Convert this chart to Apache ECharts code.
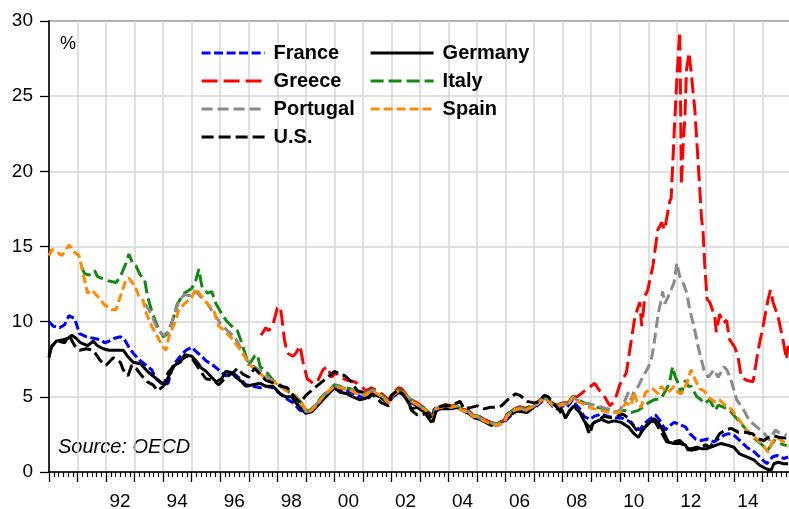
<!DOCTYPE html>
<html>
<head>
<meta charset="utf-8">
<script src="https://cdn.jsdelivr.net/npm/echarts@6/dist/echarts.min.js"></script>
<style>
  html, body { margin: 0; padding: 0; background: #fff; }
  #chart { width: 789px; height: 509px; }
</style>
</head>
<body>
<div id="chart"></div>
<script>
// 10-year government bond yields, %, [year, value]
const france = [[1990.0,10.0],[1990.15,9.7],[1990.37,9.6],[1990.55,9.8],[1990.7,10.4],[1990.9,10.2],[1991.07,9.2],[1991.3,9.0],[1991.55,8.9],[1991.8,8.8],[1991.95,8.6],[1992.1,8.7],[1992.3,8.9],[1992.5,9.0],[1992.65,8.8],[1992.8,8.3],[1992.95,7.9],[1993.2,7.4],[1993.4,7.1],[1993.6,6.8],[1993.75,6.2],[1994.0,5.8],[1994.17,5.9],[1994.35,7.1],[1994.6,7.7],[1994.8,8.1],[1995.0,8.3],[1995.16,8.0],[1995.35,7.7],[1995.5,7.4],[1995.75,7.1],[1996.0,6.7],[1996.2,6.4],[1996.45,6.6],[1996.7,6.2],[1996.9,5.8],[1997.15,5.7],[1997.4,5.6],[1997.6,5.7],[1997.85,5.6],[1998.1,5.2],[1998.3,4.9],[1998.55,4.6],[1998.8,4.1],[1999.0,4.0],[1999.2,4.1],[1999.4,4.5],[1999.6,5.0],[1999.8,5.3],[2000.0,5.6],[2000.2,5.5],[2000.45,5.4],[2000.7,5.2],[2000.9,5.0],[2001.1,5.0],[2001.3,5.2],[2001.5,5.1],[2001.7,4.9],[2001.9,4.6],[2002.05,5.0],[2002.3,5.3],[2002.5,5.0],[2002.7,4.6],[2002.9,4.4],[2003.1,4.2],[2003.3,4.0],[2003.45,3.6],[2003.6,4.1],[2003.8,4.3],[2004.1,4.2],[2004.3,4.3],[2004.5,4.1],[2004.7,3.9],[2004.9,3.7],[2005.1,3.6],[2005.3,3.4],[2005.5,3.2],[2005.7,3.1],[2005.95,3.3],[2006.1,3.6],[2006.3,4.0],[2006.5,4.1],[2006.7,4.0],[2006.9,4.2],[2007.1,4.4],[2007.3,4.75],[2007.5,4.7],[2007.65,4.35],[2007.8,4.2],[2008.0,4.4],[2008.15,4.3],[2008.35,4.8],[2008.45,4.5],[2008.6,4.2],[2008.75,3.7],[2008.95,3.5],[2009.1,3.7],[2009.35,3.85],[2009.6,3.7],[2009.8,3.6],[2010.05,3.6],[2010.3,3.4],[2010.5,3.1],[2010.7,2.8],[2010.85,3.2],[2011.0,3.45],[2011.25,3.8],[2011.4,3.45],[2011.6,2.8],[2011.7,3.0],[2011.9,3.3],[2012.05,3.2],[2012.3,3.0],[2012.45,2.55],[2012.65,2.2],[2012.85,2.1],[2013.1,2.2],[2013.3,2.0],[2013.45,2.2],[2013.65,2.45],[2013.8,2.55],[2014.0,2.45],[2014.2,2.1],[2014.45,1.65],[2014.7,1.35],[2014.9,1.0],[2015.15,0.55],[2015.35,1.0],[2015.5,1.1],[2015.75,0.9],[2015.9,1.0]];

const germany = [[1990.0,7.6],[1990.08,8.3],[1990.25,8.7],[1990.5,8.8],[1990.67,8.9],[1990.8,9.1],[1990.95,8.9],[1991.1,8.6],[1991.35,8.4],[1991.55,8.7],[1991.7,8.4],[1991.9,8.2],[1992.1,8.1],[1992.35,8.1],[1992.6,8.1],[1992.75,7.7],[1992.95,7.3],[1993.2,7.2],[1993.35,6.9],[1993.5,6.6],[1993.7,6.3],[1993.9,6.0],[1994.05,5.8],[1994.25,6.6],[1994.4,7.1],[1994.6,7.3],[1994.75,7.8],[1995.0,7.7],[1995.2,7.3],[1995.35,6.9],[1995.5,6.7],[1995.7,6.3],[1995.85,6.0],[1996.05,6.2],[1996.2,6.7],[1996.4,6.6],[1996.55,6.3],[1996.75,6.0],[1996.9,5.7],[1997.15,5.8],[1997.4,5.9],[1997.6,5.7],[1997.85,5.7],[1998.1,5.2],[1998.3,5.0],[1998.5,5.0],[1998.65,4.6],[1998.85,4.2],[1999.0,3.9],[1999.2,4.0],[1999.35,4.3],[1999.6,4.8],[1999.8,5.2],[2000.0,5.6],[2000.2,5.3],[2000.45,5.2],[2000.65,5.0],[2000.9,4.8],[2001.1,4.9],[2001.35,5.2],[2001.6,5.0],[2001.85,4.6],[2002.05,5.1],[2002.3,5.3],[2002.5,5.0],[2002.7,4.2],[2002.9,4.3],[2003.15,4.0],[2003.4,3.3],[2003.5,4.2],[2003.75,4.2],[2004.0,4.2],[2004.3,4.3],[2004.5,4.1],[2004.7,3.9],[2004.9,3.6],[2005.1,3.5],[2005.3,3.3],[2005.5,3.1],[2005.7,3.2],[2005.95,3.4],[2006.05,3.7],[2006.4,4.05],[2006.75,3.95],[2007.05,4.4],[2007.35,5.05],[2007.5,4.75],[2007.7,4.5],[2007.95,4.2],[2008.1,3.6],[2008.25,4.1],[2008.4,4.4],[2008.6,3.95],[2008.75,3.4],[2008.95,2.95],[2009.1,3.3],[2009.35,3.5],[2009.6,3.3],[2009.8,3.4],[2010.05,3.3],[2010.3,3.0],[2010.5,2.55],[2010.65,2.3],[2010.8,2.8],[2011.0,3.2],[2011.2,3.55],[2011.35,3.3],[2011.5,2.8],[2011.7,2.0],[2011.9,1.9],[2012.1,1.9],[2012.3,1.8],[2012.4,1.45],[2012.5,1.55],[2012.7,1.65],[2012.85,1.55],[2013.05,1.55],[2013.2,1.65],[2013.4,1.8],[2013.55,1.9],[2013.75,1.8],[2014.0,1.65],[2014.2,1.2],[2014.45,1.0],[2014.7,0.8],[2014.9,0.45],[2015.15,0.2],[2015.3,0.1],[2015.4,0.55],[2015.55,0.65],[2015.75,0.55],[2015.9,0.55]];

const greece = [[1997.43,9.1],[1997.6,9.6],[1997.7,9.4],[1997.85,9.8],[1998.0,10.9],[1998.1,11.0],[1998.15,10.4],[1998.25,8.8],[1998.35,7.9],[1998.55,7.7],[1998.65,7.9],[1998.8,8.4],[1998.9,7.3],[1999.05,6.2],[1999.25,5.9],[1999.4,6.0],[1999.6,6.8],[1999.75,7.0],[1999.9,6.3],[2000.05,6.6],[2000.2,6.3],[2000.45,6.1],[2000.7,6.0],[2000.9,5.8],[2001.1,5.4],[2001.3,5.6],[2001.5,5.4],[2001.7,5.15],[2001.9,4.8],[2002.05,5.3],[2002.25,5.6],[2002.35,5.55],[2002.5,5.2],[2002.7,4.8],[2002.9,4.6],[2003.05,4.4],[2003.2,4.2],[2003.35,3.9],[2003.45,3.6],[2003.55,4.3],[2003.75,4.4],[2003.9,4.5],[2004.1,4.4],[2004.3,4.5],[2004.45,4.2],[2004.7,4.1],[2004.85,3.8],[2005.0,3.8],[2005.25,3.5],[2005.5,3.3],[2005.7,3.25],[2005.95,3.45],[2006.05,3.85],[2006.3,4.2],[2006.5,4.35],[2006.7,4.25],[2006.9,4.4],[2007.1,4.6],[2007.3,4.95],[2007.45,4.95],[2007.65,4.55],[2007.8,4.45],[2008.0,4.6],[2008.15,4.6],[2008.35,5.0],[2008.5,5.0],[2008.77,5.4],[2009.12,5.9],[2009.3,5.4],[2009.47,5.0],[2009.65,4.4],[2009.82,4.7],[2010.0,5.8],[2010.23,6.6],[2010.35,8.1],[2010.53,10.3],[2010.7,11.3],[2010.77,9.7],[2010.88,11.7],[2010.98,12.1],[2011.16,13.7],[2011.33,16.1],[2011.47,16.6],[2011.57,16.1],[2011.75,18.0],[2011.8,18.2],[2011.93,23.5],[2012.0,26.1],[2012.1,29.3],[2012.13,24.6],[2012.16,19.1],[2012.22,21.7],[2012.28,23.5],[2012.34,26.8],[2012.43,27.9],[2012.5,26.6],[2012.63,24.1],[2012.74,20.8],[2012.86,17.0],[2012.92,15.9],[2012.98,13.7],[2013.06,11.5],[2013.15,11.3],[2013.21,11.0],[2013.33,10.3],[2013.38,9.3],[2013.5,10.5],[2013.62,9.9],[2013.74,10.1],[2013.85,8.8],[2014.03,8.3],[2014.14,7.7],[2014.26,6.3],[2014.44,6.1],[2014.67,6.0],[2014.85,8.1],[2015.02,9.7],[2015.2,11.5],[2015.28,12.1],[2015.37,11.3],[2015.55,10.3],[2015.72,8.8],[2015.84,7.5],[2015.9,8.4]];

const italy = [[1991.15,13.6],[1991.25,13.2],[1991.4,13.1],[1991.6,13.4],[1991.7,13.0],[1991.95,12.8],[1992.1,12.7],[1992.35,12.6],[1992.5,13.0],[1992.7,13.9],[1992.8,14.5],[1992.95,13.8],[1993.05,13.7],[1993.2,13.1],[1993.35,12.8],[1993.45,11.7],[1993.6,10.7],[1993.8,9.7],[1994.0,9.0],[1994.15,9.2],[1994.3,9.9],[1994.5,11.2],[1994.75,11.9],[1995.0,12.2],[1995.15,12.8],[1995.25,13.5],[1995.35,12.4],[1995.55,11.9],[1995.7,12.0],[1995.85,11.2],[1996.0,10.7],[1996.2,10.1],[1996.4,9.7],[1996.6,9.4],[1996.75,8.6],[1996.85,8.0],[1997.0,7.1],[1997.2,7.7],[1997.3,7.8],[1997.4,7.0],[1997.6,6.7],[1997.85,6.1],[1998.1,5.8],[1998.35,5.4],[1998.6,5.1],[1998.85,4.6],[1999.0,4.1],[1999.15,4.1],[1999.35,4.5],[1999.6,5.1],[1999.8,5.4],[2000.0,5.8],[2000.2,5.7],[2000.4,5.6],[2000.6,5.5],[2000.8,5.3],[2001.05,5.2],[2001.25,5.4],[2001.35,5.5],[2001.5,5.3],[2001.7,5.05],[2001.9,4.7],[2002.05,5.2],[2002.25,5.45],[2002.35,5.45],[2002.5,5.15],[2002.7,4.75],[2002.9,4.55],[2003.05,4.35],[2003.2,4.15],[2003.35,3.85],[2003.45,3.6],[2003.55,4.25],[2003.75,4.35],[2003.9,4.45],[2004.1,4.35],[2004.3,4.45],[2004.45,4.15],[2004.7,4.05],[2004.85,3.75],[2005.0,3.75],[2005.25,3.45],[2005.5,3.3],[2005.7,3.2],[2005.95,3.4],[2006.05,3.8],[2006.3,4.2],[2006.5,4.3],[2006.7,4.2],[2006.9,4.35],[2007.1,4.55],[2007.3,4.9],[2007.45,4.9],[2007.65,4.5],[2007.8,4.4],[2008.0,4.6],[2008.15,4.55],[2008.35,5.0],[2008.5,4.85],[2008.75,4.6],[2009.0,4.5],[2009.2,4.3],[2009.45,4.2],[2009.7,4.1],[2009.9,3.95],[2010.15,4.1],[2010.4,3.95],[2010.65,4.1],[2010.8,4.3],[2011.0,4.6],[2011.2,4.8],[2011.45,4.9],[2011.65,5.55],[2011.75,6.0],[2011.85,7.0],[2011.95,6.3],[2012.05,5.9],[2012.15,5.2],[2012.3,6.1],[2012.4,5.7],[2012.5,5.7],[2012.7,5.0],[2012.85,4.8],[2012.95,4.55],[2013.15,4.8],[2013.35,4.1],[2013.45,4.45],[2013.65,4.3],[2013.85,4.1],[2014.1,3.55],[2014.35,3.0],[2014.55,2.55],[2014.8,2.1],[2015.05,1.7],[2015.2,1.5],[2015.4,2.1],[2015.6,1.9],[2015.85,1.75]];

const portugal = [[1993.35,11.2],[1993.5,10.8],[1993.65,10.2],[1993.8,9.5],[1994.0,9.1],[1994.17,9.3],[1994.35,10.2],[1994.55,11.4],[1994.75,11.8],[1995.0,11.7],[1995.15,12.0],[1995.35,11.6],[1995.55,11.2],[1995.75,10.6],[1996.0,9.9],[1996.25,9.4],[1996.5,9.0],[1996.7,8.3],[1996.95,7.4],[1997.2,7.0],[1997.5,6.6],[1997.8,6.1],[1998.1,5.7],[1998.35,5.35],[1998.6,5.05],[1998.85,4.55],[1999.0,4.0],[1999.15,4.05],[1999.35,4.45],[1999.6,5.05],[1999.8,5.35],[2000.0,5.75],[2000.2,5.65],[2000.4,5.55],[2000.6,5.45],[2000.8,5.25],[2001.05,5.15],[2001.25,5.35],[2001.35,5.45],[2001.5,5.25],[2001.7,5.0],[2001.9,4.65],[2002.05,5.15],[2002.25,5.4],[2002.35,5.4],[2002.5,5.1],[2002.7,4.7],[2002.9,4.5],[2003.05,4.3],[2003.2,4.1],[2003.35,3.8],[2003.45,3.55],[2003.55,4.2],[2003.75,4.3],[2003.9,4.4],[2004.1,4.3],[2004.3,4.4],[2004.45,4.1],[2004.7,4.0],[2004.85,3.7],[2005.0,3.7],[2005.25,3.4],[2005.5,3.25],[2005.7,3.15],[2005.95,3.35],[2006.05,3.75],[2006.3,4.15],[2006.5,4.25],[2006.7,4.15],[2006.9,4.3],[2007.1,4.5],[2007.3,4.85],[2007.45,4.85],[2007.65,4.45],[2007.8,4.35],[2008.0,4.55],[2008.15,4.5],[2008.35,4.95],[2008.5,4.8],[2008.75,4.6],[2009.0,4.5],[2009.2,4.4],[2009.4,4.3],[2009.6,4.2],[2009.8,3.95],[2010.0,4.1],[2010.15,4.6],[2010.3,5.3],[2010.4,4.8],[2010.5,5.4],[2010.65,5.7],[2010.8,6.3],[2010.95,6.8],[2011.1,7.4],[2011.2,8.5],[2011.35,10.6],[2011.45,11.4],[2011.5,12.0],[2011.58,11.2],[2011.75,11.9],[2011.9,12.6],[2012.0,13.9],[2012.1,13.0],[2012.2,12.7],[2012.35,11.9],[2012.45,10.8],[2012.6,9.7],[2012.75,8.3],[2012.95,6.8],[2013.1,6.3],[2013.3,6.8],[2013.45,6.3],[2013.65,7.0],[2013.75,6.8],[2013.9,6.1],[2014.1,4.8],[2014.35,4.1],[2014.55,3.4],[2014.8,3.0],[2015.05,2.6],[2015.25,2.1],[2015.45,2.8],[2015.6,2.6],[2015.85,2.45]];

const spain = [[1990.0,14.4],[1990.1,14.8],[1990.3,14.6],[1990.45,14.4],[1990.6,14.8],[1990.7,15.1],[1990.9,14.6],[1991.05,14.4],[1991.2,13.2],[1991.35,11.9],[1991.5,12.1],[1991.7,11.7],[1991.95,11.1],[1992.2,10.8],[1992.35,10.8],[1992.45,11.4],[1992.7,12.8],[1992.8,12.9],[1993.0,12.4],[1993.15,11.7],[1993.3,11.4],[1993.4,10.6],[1993.6,9.7],[1993.8,9.0],[1994.0,8.3],[1994.1,8.1],[1994.2,9.0],[1994.4,9.9],[1994.55,10.8],[1994.75,11.2],[1995.0,11.6],[1995.15,12.2],[1995.3,11.8],[1995.55,11.2],[1995.8,10.6],[1995.95,9.7],[1996.15,9.4],[1996.4,8.9],[1996.6,8.4],[1996.85,7.7],[1997.0,7.2],[1997.25,6.8],[1997.55,6.3],[1997.85,6.0],[1998.15,5.7],[1998.4,5.3],[1998.65,5.0],[1998.85,4.6],[1999.05,4.0],[1999.2,4.1],[1999.4,4.5],[1999.6,5.0],[1999.8,5.4],[2000.0,5.7],[2000.2,5.6],[2000.4,5.5],[2000.6,5.4],[2000.8,5.2],[2001.05,5.1],[2001.25,5.3],[2001.35,5.4],[2001.5,5.2],[2001.7,4.95],[2001.9,4.6],[2002.05,5.1],[2002.25,5.4],[2002.35,5.4],[2002.5,5.1],[2002.7,4.7],[2002.9,4.5],[2003.05,4.3],[2003.2,4.1],[2003.35,3.8],[2003.45,3.5],[2003.55,4.2],[2003.75,4.3],[2003.9,4.4],[2004.1,4.3],[2004.3,4.4],[2004.45,4.1],[2004.7,4.0],[2004.85,3.7],[2005.0,3.7],[2005.25,3.4],[2005.5,3.2],[2005.7,3.1],[2005.95,3.3],[2006.05,3.7],[2006.3,4.1],[2006.5,4.2],[2006.7,4.1],[2006.9,4.3],[2007.1,4.5],[2007.3,4.85],[2007.45,4.85],[2007.65,4.4],[2007.8,4.3],[2008.0,4.5],[2008.15,4.4],[2008.35,4.95],[2008.5,4.7],[2008.65,4.6],[2008.8,4.4],[2009.1,4.2],[2009.35,4.1],[2009.65,3.95],[2009.9,3.95],[2010.05,4.05],[2010.2,4.6],[2010.4,4.4],[2010.5,5.3],[2010.6,4.7],[2010.75,4.3],[2010.9,5.3],[2011.15,5.55],[2011.35,5.2],[2011.45,5.7],[2011.65,5.3],[2011.75,5.4],[2011.9,5.7],[2012.05,5.3],[2012.15,5.2],[2012.35,5.9],[2012.5,6.8],[2012.65,6.1],[2012.8,5.55],[2012.95,5.4],[2013.15,4.9],[2013.35,4.65],[2013.5,4.8],[2013.75,4.3],[2013.9,4.2],[2014.1,3.7],[2014.35,3.0],[2014.55,2.55],[2014.8,2.2],[2015.05,1.7],[2015.2,1.3],[2015.35,2.0],[2015.5,2.3],[2015.75,2.0],[2015.9,1.7]];

const us = [[1990.0,7.8],[1990.1,8.4],[1990.35,8.7],[1990.55,8.6],[1990.7,9.1],[1990.9,8.4],[1991.07,8.1],[1991.3,8.2],[1991.55,8.1],[1991.8,7.4],[1992.0,7.1],[1992.25,7.6],[1992.5,7.3],[1992.6,6.8],[1992.77,6.4],[1992.9,7.1],[1993.05,6.9],[1993.25,6.4],[1993.45,6.0],[1993.65,5.8],[1993.8,5.4],[1994.0,5.7],[1994.17,6.6],[1994.35,7.0],[1994.6,7.4],[1994.8,7.7],[1995.0,7.6],[1995.17,7.1],[1995.35,6.6],[1995.5,6.2],[1995.75,6.1],[1995.95,5.8],[1996.2,6.3],[1996.45,6.6],[1996.6,6.9],[1996.8,6.5],[1997.0,6.3],[1997.2,6.9],[1997.4,6.5],[1997.6,6.1],[1997.9,5.9],[1998.15,5.7],[1998.35,5.6],[1998.55,5.1],[1998.8,4.6],[1999.0,5.1],[1999.25,5.5],[1999.5,5.9],[1999.7,6.2],[2000.0,6.7],[2000.2,6.5],[2000.37,6.4],[2000.6,6.0],[2000.8,5.4],[2001.0,5.3],[2001.2,4.9],[2001.3,5.2],[2001.45,4.95],[2001.65,4.6],[2001.9,4.4],[2002.0,5.1],[2002.2,5.4],[2002.4,5.2],[2002.6,4.6],[2002.7,4.1],[2002.9,3.8],[2003.05,3.8],[2003.3,3.95],[2003.45,3.3],[2003.6,4.3],[2003.85,4.4],[2004.1,4.4],[2004.3,4.6],[2004.4,4.7],[2004.55,4.2],[2004.8,4.3],[2005.0,4.4],[2005.25,4.2],[2005.45,4.3],[2005.6,4.3],[2005.85,4.4],[2006.1,4.85],[2006.35,5.2],[2006.5,5.1],[2006.75,4.7],[2007.0,4.6],[2007.2,4.7],[2007.35,5.1],[2007.5,5.0],[2007.65,4.6],[2007.8,4.3],[2008.0,3.8],[2008.1,3.6],[2008.25,4.1],[2008.4,4.3],[2008.6,4.0],[2008.75,3.5],[2008.9,2.7],[2008.95,2.5],[2009.05,3.2],[2009.2,3.4],[2009.45,3.7],[2009.7,3.6],[2009.9,3.7],[2010.1,3.85],[2010.3,3.6],[2010.5,3.0],[2010.7,2.55],[2010.9,3.0],[2011.05,3.45],[2011.25,3.3],[2011.4,2.8],[2011.65,2.0],[2011.9,2.0],[2012.1,2.1],[2012.35,1.65],[2012.5,1.45],[2012.75,1.55],[2013.0,1.8],[2013.15,1.65],[2013.35,2.1],[2013.5,2.55],[2013.7,2.8],[2013.9,2.9],[2014.15,2.65],[2014.4,2.65],[2014.65,2.55],[2014.85,2.2],[2015.05,2.1],[2015.2,2.3],[2015.4,2.4],[2015.6,2.3],[2015.85,2.25]];

const FONT = 'Liberation Sans, Arial, Helvetica, sans-serif';

function mkLine(name, data, color, dash) {
    return {
        name: name,
        type: 'line',
        data: data,
        symbol: 'none',
        showSymbol: false,
        animation: false,
        lineStyle: { color: color, width: 3, type: dash },
        itemStyle: { color: color }
    };
}

function mkLegend(names, left) {
    return {
        data: names,
        orient: 'vertical', left: left, top: 43, padding: 0,
        itemWidth: 63, itemHeight: 14, itemGap: 8,
        itemStyle: { opacity: 0 },
        lineStyle: { width: 3.2 },
        textStyle: { fontFamily: FONT, fontSize: 20, fontWeight: 'bold', color: '#000', lineHeight: 20, padding: [0, 0, 0, 4] }
    };
}

var myChart = echarts.init(document.getElementById('chart'));
var option = {
    animation: false,
    backgroundColor: '#fff',
    grid: {
        left: 49, top: 21, width: 742, height: 451,
        outerBoundsMode: 'none', containLabel: false,
        show: true, borderColor: '#000', borderWidth: 1.5, backgroundColor: '#fff'
    },
    legend: [
        mkLegend(['France', 'Greece', 'Portugal', 'U.S.'], 200),
        mkLegend(['Germany', 'Italy', 'Spain'], 369)
    ],
    xAxis: {
        type: 'value', min: 1990, max: 2016, interval: 1,
        axisLine: { lineStyle: { color: '#000', width: 1.5 } },
        axisTick: { show: true, length: 10, lineStyle: { color: '#000', width: 1.3 } },
        minorTick: { show: true, splitNumber: 6, length: 5, lineStyle: { color: '#000', width: 1.2 } },
        splitLine: { show: true, lineStyle: { color: '#d6d6d6', width: 1.5 } },
        axisLabel: {
            margin: 20, fontFamily: FONT, fontSize: 19, color: '#000',
            padding: [0, 0, 0, 28],
            formatter: function (v) {
                if (v >= 1992 && v <= 2014 && v % 2 === 0) return String(v).slice(2);
                return '';
            }
        }
    },
    yAxis: {
        type: 'value', min: 0, max: 30, interval: 5,
        axisLine: { show: true, lineStyle: { color: '#000', width: 1.5 } },
        axisTick: { show: true, length: 9, lineStyle: { color: '#000', width: 1.3 } },
        splitLine: { show: true, lineStyle: { color: '#d6d6d6', width: 1.5 } },
        axisLabel: { margin: 16, fontFamily: FONT, fontSize: 19, color: '#000' }
    },
    graphic: [
        { type: 'text', left: 60, top: 35, style: { text: '%', font: '18px ' + FONT, fill: '#000' } },
        { type: 'text', left: 58, top: 437, style: { text: 'Source: OECD', font: 'italic 20px ' + FONT, fill: '#000' } }
    ],
    series: [
        mkLine('France', france, '#0000ff', [9, 3.5]),
        mkLine('Germany', germany, '#000000', 'solid'),
        mkLine('Greece', greece, '#ff0000', [16, 6]),
        mkLine('Italy', italy, '#108a10', [13, 5]),
        mkLine('Portugal', portugal, '#8a8a8a', [11, 5]),
        mkLine('Spain', spain, '#ff8a00', [9, 4]),
        mkLine('U.S.', us, '#000000', [12, 5])
    ]
};
myChart.setOption(option);
</script>
</body>
</html>
